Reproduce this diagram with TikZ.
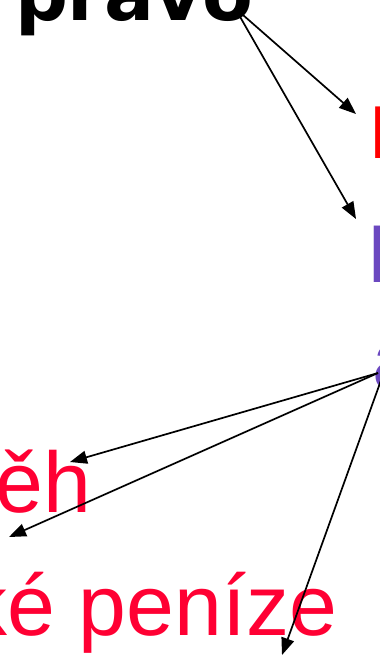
\documentclass[tikz,border=0pt]{standalone}
\usepackage{fontspec}
\setmainfont{Liberation Sans}
\newfontfamily\djv{DejaVu Sans}
\usetikzlibrary{arrows.meta}
\definecolor{redA}{RGB}{255,0,0}
\definecolor{redB}{RGB}{255,0,51}
\definecolor{purp}{RGB}{107,72,192}
\tikzset{
  txt/.style={inner sep=0pt, outer sep=0pt},
  arr/.style={draw=black, line width=1.7pt, -{Triangle[length=17pt,width=13pt]}}
}
\begin{document}
\begin{tikzpicture}[x=1pt,y=-1pt]
\useasboundingbox (0,0) rectangle (380,656);
\clip (0,0) rectangle (380,656);
\fill[white] (0,0) rectangle (380,656);
% texts
\node[txt, anchor=base west, font=\djv\bfseries\fontsize{74}{80}\selectfont] (pravo) at (15,20) {pravo};
\node[txt, anchor=base west, text=redA, font=\fontsize{75}{80}\selectfont] (r1) at (369,158) {P};
\node[txt, anchor=base west, text=purp, font=\fontsize{82}{90}\selectfont] (p1) at (367,282) {N};
\node[txt, anchor=base west, text=purp, font=\fontsize{82}{90}\selectfont] (p2) at (372,388) {a};
\node[txt, anchor=base east, text=redB, font=\fontsize{86}{90}\selectfont] (obeh) at (91,512) {ěh};
\node[txt, anchor=base east, text=redB, font=\fontsize{86}{90}\selectfont] (penize) at (337,635) {ké peníze};
% connector points
\coordinate (s1) at (235,8);
\coordinate (e1) at (356,114);
\coordinate (e2) at (356,219);
\coordinate (s2) at (378,373);
\coordinate (s3) at (384,372);
\coordinate (e3) at (70,462);
\coordinate (e4) at (9,537);
\coordinate (e5) at (282,655);
\draw[arr] (s1) -- (e1);
\draw[arr] (s1) -- (e2);
\draw[arr] (s2) -- (e3);
\draw[arr] (s2) -- (e4);
\draw[arr] (s3) -- (e5);
\end{tikzpicture}
\end{document}
